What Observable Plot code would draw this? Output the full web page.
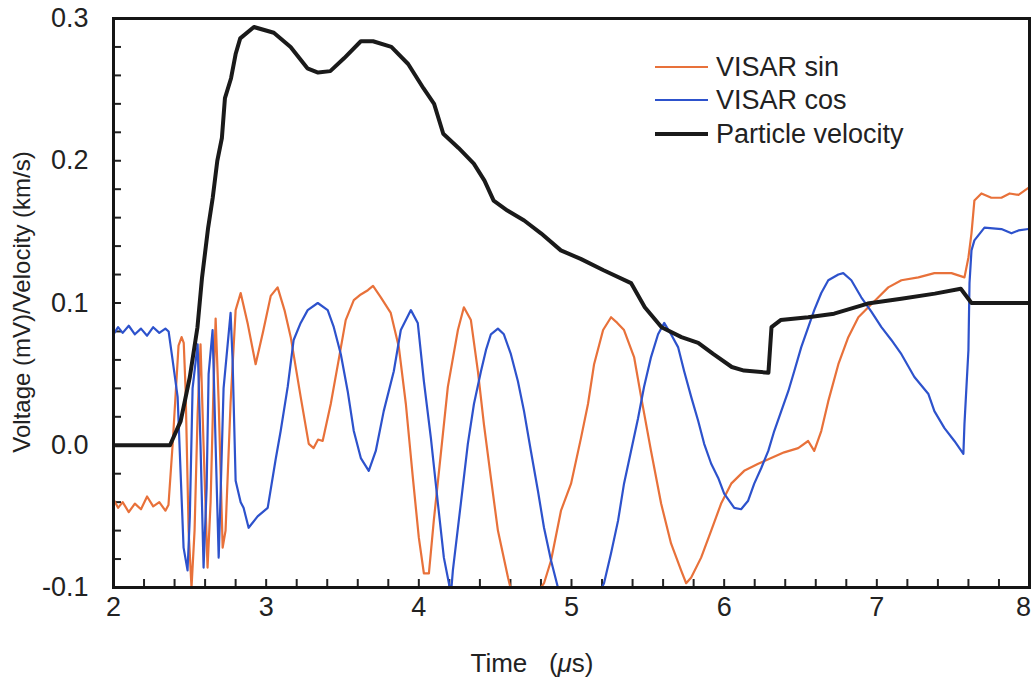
<!DOCTYPE html>
<html><head><meta charset="utf-8">
<script src="https://cdn.jsdelivr.net/npm/d3@7"></script>
<script src="https://cdn.jsdelivr.net/npm/@observablehq/plot@0.6"></script>
<style>
body{margin:0;background:#fff;font-family:Arial,"Liberation Sans",sans-serif;color:#222;}
#wrap{position:relative;width:1034px;height:684px;overflow:hidden;}
#wrap svg{position:absolute;left:0;top:0;}
.lab{position:absolute;white-space:nowrap;line-height:1;}
</style></head><body><div id="wrap"></div>
<script>
// ---- data (time in microseconds, value in mV or km/s) ----
const seriesNames = ["VISAR sin", "VISAR cos", "Particle velocity"];
const seriesColors = ["#e8713a", "#2d52cc", "#1a1a1a"];
const seriesWidths = [2.2, 2.2, 4];

const sinT = [2.00,2.03,2.06,2.10,2.14,2.18,2.22,2.26,2.30,2.34,2.36,2.387,2.426,2.446,2.46,2.472,2.492,2.511,2.531,2.551,2.57,2.59,2.616,2.636,2.655,2.669,2.689,2.715,2.734,2.767,2.80,2.833,2.88,2.931,2.98,3.03,3.075,3.12,3.161,3.226,3.279,3.311,3.34,3.37,3.423,3.475,3.521,3.574,3.62,3.666,3.70,3.751,3.816,3.869,3.915,3.961,4.00,4.033,4.066,4.098,4.144,4.19,4.256,4.295,4.341,4.387,4.426,4.472,4.518,4.584,4.60,4.70,4.80,4.82,4.866,4.931,4.997,5.062,5.108,5.148,5.207,5.259,5.30,5.344,5.41,5.456,5.521,5.587,5.652,5.718,5.751,5.784,5.849,5.915,5.98,6.046,6.131,6.223,6.308,6.393,6.485,6.55,6.59,6.636,6.682,6.748,6.813,6.879,6.944,7.01,7.075,7.161,7.272,7.377,7.489,7.574,7.60,7.62,7.639,7.685,7.75,7.816,7.87,7.928,7.993];
const sinV = [-0.038,-0.044,-0.040,-0.047,-0.041,-0.045,-0.036,-0.043,-0.040,-0.046,-0.042,0.000,0.070,0.076,0.072,0.040,-0.060,-0.100,-0.060,0.022,0.071,0.000,-0.086,-0.040,0.040,0.089,0.030,-0.072,-0.060,0.030,0.095,0.107,0.085,0.057,0.080,0.105,0.111,0.095,0.076,0.034,0.001,-0.002,0.004,0.003,0.029,0.060,0.088,0.102,0.106,0.109,0.112,0.104,0.093,0.069,0.029,-0.023,-0.065,-0.090,-0.090,-0.053,-0.006,0.041,0.081,0.097,0.088,0.052,0.015,-0.023,-0.060,-0.093,-0.100,-0.125,-0.100,-0.097,-0.081,-0.046,-0.027,0.005,0.029,0.057,0.081,0.090,0.086,0.081,0.062,0.034,-0.004,-0.041,-0.069,-0.088,-0.097,-0.093,-0.079,-0.060,-0.041,-0.027,-0.018,-0.013,-0.009,-0.005,-0.002,0.003,-0.004,0.010,0.031,0.057,0.076,0.090,0.097,0.104,0.111,0.116,0.118,0.121,0.121,0.118,0.132,0.149,0.172,0.177,0.174,0.174,0.177,0.176,0.181];

const cosT = [2.00,2.03,2.06,2.10,2.14,2.18,2.22,2.26,2.30,2.34,2.361,2.387,2.42,2.459,2.485,2.50,2.518,2.551,2.57,2.59,2.61,2.623,2.649,2.669,2.689,2.70,2.721,2.767,2.78,2.80,2.833,2.852,2.885,2.944,3.01,3.062,3.095,3.141,3.18,3.226,3.272,3.338,3.403,3.443,3.489,3.534,3.574,3.62,3.672,3.718,3.77,3.836,3.882,3.948,3.993,4.033,4.079,4.125,4.164,4.197,4.21,4.223,4.275,4.321,4.361,4.407,4.44,4.472,4.518,4.557,4.603,4.649,4.689,4.734,4.78,4.82,4.866,4.911,5.06,5.213,5.259,5.305,5.344,5.39,5.436,5.475,5.521,5.567,5.607,5.652,5.698,5.738,5.784,5.83,5.869,5.915,5.961,6.00,6.066,6.111,6.157,6.197,6.243,6.289,6.328,6.374,6.42,6.459,6.505,6.551,6.59,6.636,6.682,6.748,6.78,6.833,6.898,6.964,7.03,7.095,7.161,7.246,7.338,7.377,7.443,7.508,7.567,7.574,7.60,7.607,7.62,7.639,7.705,7.816,7.882,7.928,7.993];
const cosV = [0.078,0.083,0.079,0.084,0.078,0.082,0.077,0.083,0.079,0.082,0.080,0.060,0.034,-0.072,-0.088,-0.050,0.040,0.071,0.000,-0.086,-0.030,0.050,0.081,0.000,-0.079,-0.040,0.040,0.093,0.060,-0.025,-0.040,-0.044,-0.058,-0.050,-0.044,-0.010,0.010,0.041,0.074,0.086,0.095,0.100,0.095,0.083,0.064,0.038,0.010,-0.009,-0.018,-0.004,0.024,0.052,0.081,0.095,0.086,0.045,0.005,-0.041,-0.079,-0.097,-0.105,-0.088,-0.041,0.001,0.029,0.052,0.067,0.078,0.082,0.078,0.064,0.045,0.024,-0.004,-0.032,-0.058,-0.081,-0.100,-0.130,-0.097,-0.076,-0.053,-0.027,-0.004,0.019,0.041,0.062,0.078,0.086,0.078,0.069,0.052,0.034,0.017,0.001,-0.013,-0.023,-0.034,-0.044,-0.045,-0.039,-0.027,-0.016,-0.004,0.010,0.024,0.038,0.052,0.069,0.083,0.095,0.107,0.116,0.120,0.121,0.116,0.104,0.094,0.083,0.074,0.064,0.048,0.036,0.024,0.012,0.003,-0.006,0.015,0.067,0.114,0.137,0.144,0.153,0.152,0.149,0.151,0.152];

const velT = [2.00,2.37,2.44,2.50,2.55,2.58,2.62,2.65,2.68,2.71,2.73,2.77,2.80,2.83,2.92,3.05,3.16,3.27,3.34,3.42,3.51,3.62,3.70,3.82,3.93,4.03,4.10,4.16,4.26,4.36,4.43,4.49,4.58,4.69,4.80,4.93,5.06,5.21,5.39,5.48,5.59,5.72,5.83,5.93,6.05,6.13,6.29,6.31,6.37,6.55,6.72,6.94,7.16,7.38,7.55,7.62,8.00];
const velV = [0.000,0.000,0.017,0.048,0.083,0.118,0.153,0.174,0.200,0.216,0.244,0.258,0.275,0.286,0.294,0.290,0.280,0.265,0.262,0.263,0.272,0.284,0.284,0.280,0.268,0.251,0.240,0.219,0.209,0.198,0.186,0.172,0.165,0.158,0.149,0.137,0.131,0.123,0.114,0.097,0.083,0.076,0.072,0.064,0.055,0.0525,0.051,0.083,0.088,0.090,0.0925,0.0996,0.103,0.1066,0.110,0.100,0.100];

const xTicks = [2, 3, 4, 5, 6, 7];
const xLastTick = [8];
const xMinorTicks = [2.2,2.4,2.6,2.8,3,3.2,3.4,3.6,3.8,4,4.2,4.4,4.6,4.8,5,5.2,5.4,5.6,5.8,6,6.2,6.4,6.6,6.8,7,7.2,7.4,7.6,7.8];
const yTicks = [-0.1, 0, 0.1, 0.2, 0.3];
const yTickLabels = ["-0.1", "0.0", "0.1", "0.2", "0.3"];
const yMinorTicks = [-0.08,-0.06,-0.04,-0.02,0,0.02,0.04,0.06,0.08,0.1,0.12,0.14,0.16,0.18,0.2,0.22,0.24,0.26,0.28];
const xLabel = "Time";
const yLabel = "Voltage (mV)/Velocity (km/s)";

// ---- build ----
const zip = (T, V) => T.map((t, i) => ({t, v: V[i]}));
const series = [zip(sinT, sinV), zip(cosT, cosV), zip(velT, velV)];
const FONT = 'Arial, "Liberation Sans", sans-serif';
const TICKFS = 27;

const chart = Plot.plot({
  width: 1034, height: 684,
  marginLeft: 113, marginRight: 5, marginTop: 18, marginBottom: 97,
  x: {domain: [2, 8], label: null},
  y: {domain: [-0.1, 0.3], label: null},
  style: {fontFamily: FONT, fontSize: TICKFS + "px", color: "#222", background: "transparent"},
  marks: [
    Plot.axisX({ticks: xTicks, tickSize: 0, tickPadding: 9, fontSize: TICKFS, tickFormat: d => String(d), label: null}),
    Plot.axisX({ticks: xLastTick, tickSize: 0, tickPadding: 9, fontSize: TICKFS, dx: -6, tickFormat: d => String(d), label: null}),
    Plot.axisX({ticks: xMinorTicks, tickSize: -8, strokeWidth: 2, tickFormat: () => "", label: null}),
    Plot.axisY({ticks: yTicks, tickSize: 0, tickPadding: 25, fontSize: TICKFS, tickFormat: d => yTickLabels[yTicks.indexOf(d)], label: null}),
    Plot.axisY({ticks: yMinorTicks, tickSize: -8, strokeWidth: 2, tickFormat: () => "", label: null}),
    ...series.map((s, i) => Plot.line(s, {x: "t", y: "v", stroke: seriesColors[i], strokeWidth: seriesWidths[i], clip: true, strokeLinejoin: "round"})),
    Plot.frame({stroke: "#151515", strokeWidth: 3})
  ]
});

const wrap = document.getElementById("wrap");
wrap.appendChild(chart);

// legend (inside plot, top right)
const legendRows = [67, 100, 134];
seriesNames.forEach((name, i) => {
  const sw = document.createElement("div");
  sw.style.cssText = `position:absolute;left:655px;top:${legendRows[i] - seriesWidths[i] / 2}px;width:53px;height:${seriesWidths[i]}px;background:${seriesColors[i]};`;
  wrap.appendChild(sw);
  const tx = document.createElement("div");
  tx.className = "lab";
  tx.style.cssText += `left:716px;top:${legendRows[i]}px;transform:translateY(-50%);font-size:27px;`;
  tx.textContent = name;
  wrap.appendChild(tx);
});

// axis titles
const yl = document.createElement("div");
yl.className = "lab";
yl.style.cssText += "left:22px;top:302px;transform:translate(-50%,-50%) rotate(-90deg);font-size:24px;";
yl.textContent = yLabel;
wrap.appendChild(yl);

const xl = document.createElement("div");
xl.className = "lab";
xl.style.cssText += "left:532px;top:663px;transform:translate(-50%,-50%);font-size:26px;";
xl.innerHTML = xLabel + "&nbsp;&nbsp;&nbsp;(<i>μ</i>s)";
wrap.appendChild(xl);
</script>
</body></html>
